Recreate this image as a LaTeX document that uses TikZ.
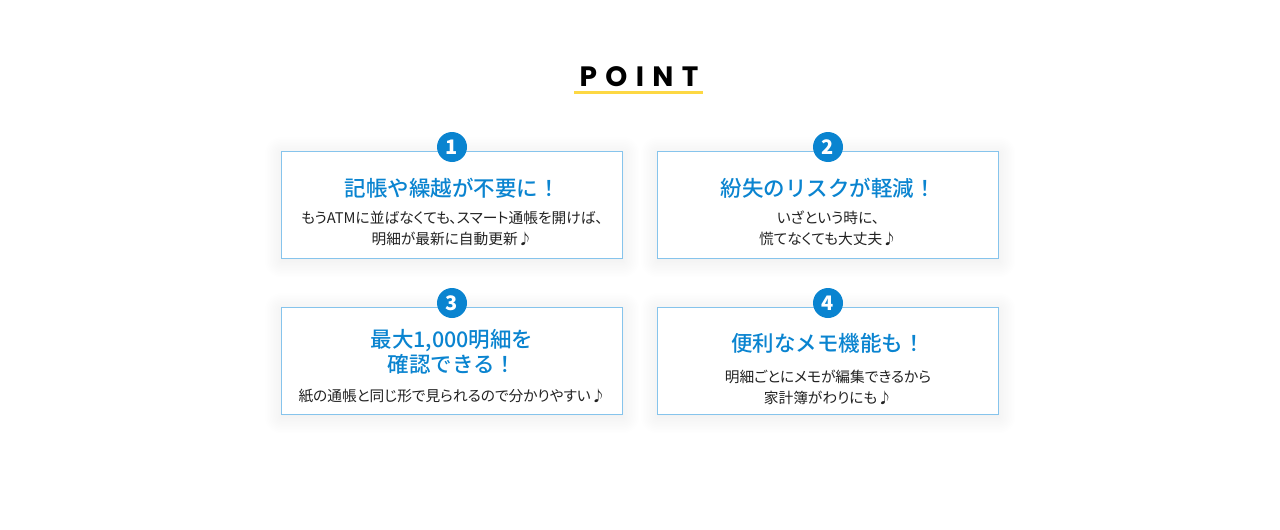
\documentclass[tikz,border=0pt]{standalone}
\usepackage{fontspec}
\usetikzlibrary{shadows.blur}
\newfontfamily\cjk{Noto Sans CJK JP}
\newfontfamily\cjkp[RawFeature=+palt]{Noto Sans CJK JP}
\newfontfamily\cjkm{Noto Sans CJK JP Medium}
\newfontfamily\pointfont[LetterSpace=30]{Poppins}
\definecolor{pblue}{HTML}{0A84D0}
\definecolor{pborder}{HTML}{86C4EC}
\definecolor{pyellow}{HTML}{FDD843}
\definecolor{ptext}{HTML}{222222}
\begin{document}
\begin{tikzpicture}[x=1pt,y=-1pt,
  shad/.style={fill=white, minimum width=342pt, minimum height=108pt, anchor=north west, inner sep=0pt,
    blur shadow={shadow xshift=0pt, shadow yshift=-2pt, shadow blur radius=18pt, shadow opacity=9, shadow blur steps=12}},
  card/.style={fill=white, minimum width=342pt, minimum height=108pt, anchor=north west, inner sep=0pt},
  frame/.style={draw=pborder, line width=1pt},
  badge/.style={circle, fill=pblue, minimum size=30pt, inner sep=0pt, text=white, font=\cjk\bfseries\fontsize{20}{20}\selectfont},
  ttl/.style={text=pblue, font=\cjkm\fontsize{21.5}{25}\selectfont, align=center, inner sep=0pt},
  bdy/.style={text=ptext, font=\cjkp\fontsize{14.7}{21}\selectfont, align=center, inner sep=0pt}]
\useasboundingbox (0,0) rectangle (1280,530);
\node[font=\pointfont\bfseries\fontsize{28}{28}\selectfont, inner sep=0pt] (pt) at (639,77) {POINT};
\coordinate (ula) at (574,92);
\coordinate (ulb) at (703,92);
\draw[pyellow, line width=3pt] (ula) -- (ulb);
% shadows
\node[shad] (s1) at (281,151) {};
\node[shad] (s2) at (657,151) {};
\node[shad] (s3) at (281,307) {};
\node[shad] (s4) at (657,307) {};
% cards
\node[card] (c1) at (281,151) {};
\node[card] (c2) at (657,151) {};
\node[card] (c3) at (281,307) {};
\node[card] (c4) at (657,307) {};
\foreach \c in {c1,c2,c3,c4}
  \draw[frame] ([shift={(0.5,0.5)}]\c.north west) rectangle ([shift={(-0.5,-0.5)}]\c.south east);
\node[badge] (b1) at (452,147) {1};
\node[badge] (b2) at (828,147) {2};
\node[badge] (b3) at (452,303) {3};
\node[badge] (b4) at (828,303) {4};
\node[ttl] (t1) at (452,188) {記帳や繰越が不要に！};
\node[bdy] (d1) at (452,228) {もうATMに並ばなくても、スマート通帳を開けば、\\明細が最新に自動更新♪};
\node[ttl] (t2) at (828,188) {紛失のリスクが軽減！};
\node[bdy] (d2) at (828,228) {いざという時に、\\慌てなくても大丈夫♪};
\node[ttl] (t3) at (452,352) {最大1,000明細を\\確認できる！};
\node[bdy] (d3) at (452,396) {紙の通帳と同じ形で見られるので分かりやすい♪};
\node[ttl] (t4) at (828,343) {便利なメモ機能も！};
\node[bdy] (d4) at (828,387) {明細ごとにメモが編集できるから\\家計簿がわりにも♪};
\end{tikzpicture}
\end{document}
